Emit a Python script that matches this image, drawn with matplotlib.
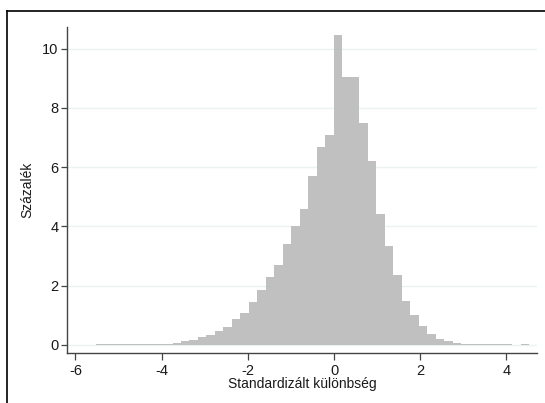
import matplotlib.pyplot as plt
from matplotlib.lines import Line2D
import numpy as np

plt.rcParams['font.family'] = ['Liberation Sans', 'DejaVu Sans']

# Histogram: 51 bins starting at -5.52, width 0.197
bin_start = -5.52
bin_width = 0.197
percent = [0.02, 0.02, 0.02, 0.03, 0.02, 0.03, 0.03, 0.04, 0.05, 0.08,
           0.12, 0.18, 0.26, 0.33, 0.47, 0.62, 0.87, 1.07, 1.45, 1.84,
           2.29, 2.69, 3.40, 4.00, 4.58, 5.71, 6.69, 7.10, 10.47, 9.05,
           9.05, 7.48, 6.20, 4.42, 3.35, 2.36, 1.50, 1.02, 0.63, 0.38,
           0.19, 0.12, 0.07, 0.045, 0.03, 0.02, 0.02, 0.02, 0.02, 0.005,
           0.03]
xticks = [-6, -4, -2, 0, 2, 4]
yticks = [0, 2, 4, 6, 8, 10]

edges = bin_start + bin_width * np.arange(len(percent) + 1)

W, H = 545, 403
fig = plt.figure(figsize=(W / 100, H / 100), dpi=100)
ax = fig.add_axes([67 / W, 1 - 353 / H, 470 / W, 326 / H])

for t in yticks:
    ax.axhline(t, color='#eaf2f3', lw=1.0, zorder=0)

ax.stairs(percent, edges, fill=True, color='#c0c0c0', lw=0, zorder=2)

ax.set_xlim(-6.195, 4.71)
ax.set_ylim(-0.27, 10.73)
ax.set_xticks(xticks)
ax.set_yticks(yticks)
ax.set_xticklabels([str(t) for t in xticks])
ax.set_yticklabels([str(t) for t in yticks])

for s in ['top', 'right']:
    ax.spines[s].set_visible(False)
for s in ['left', 'bottom']:
    ax.spines[s].set_color('#444444')
    ax.spines[s].set_linewidth(1.0)

ax.tick_params(axis='both', colors='#444444', labelcolor='#1a1a1a',
               labelsize=10.5, length=4, width=0.9, pad=2)
ax.tick_params(axis='x', length=5, pad=3)

ax.set_xlabel('Standardizált különbség', fontsize=10, color='#1a1a1a')
ax.set_ylabel('Százalék', fontsize=10, color='#1a1a1a')
ax.xaxis.set_label_coords(0.5, -0.075)
ax.yaxis.set_label_coords(-0.07, 0.5)

# screenshot frame (top and left edges)
fig.add_artist(Line2D([7 / W, 1], [1 - 11 / H, 1 - 11 / H], color='black', lw=1.2))
fig.add_artist(Line2D([7 / W, 7 / W], [0, 1 - 11 / H], color='black', lw=1.2))

fig.savefig('out.png', dpi=100)
